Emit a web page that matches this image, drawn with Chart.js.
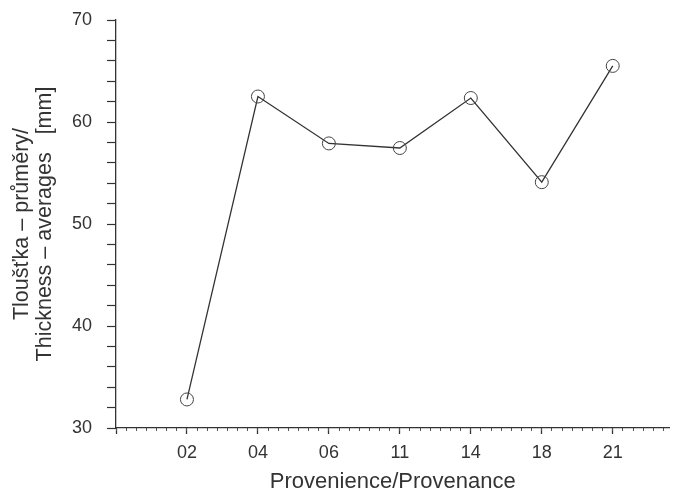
<!DOCTYPE html>
<html>
<head>
<meta charset="utf-8">
<script src="https://cdn.jsdelivr.net/npm/chart.js@4"></script>
<style>
  html, body { margin: 0; padding: 0; background: #fff; }
  #wrap { width: 677px; height: 498px; }
</style>
</head>
<body>
<div id="wrap"><canvas id="thicknessChart" width="677" height="498"></canvas></div>
<script>
// Provenance codes and average thickness [mm]
const provenances = ['02', '04', '06', '11', '14', '18', '21'];
const thickness = [32.8, 62.5, 57.9, 57.45, 62.35, 54.1, 65.5];
const yTickLabels = [30, 40, 50, 60, 70];

const ink = '#333333';
const font = 'Arial, "Liberation Sans", sans-serif';

// points sit at 1..n on a linear x scale, 0 is the axis origin
const points = thickness.map((v, i) => ({ x: i + 1, y: v }));
const xMax = provenances.length + 0.8;

// keep the scales from reserving extra room for edge labels
const noEdgePadding = (scale) => {
  scale.paddingTop = 0;
  scale.paddingBottom = 0;
  scale.paddingLeft = 0;
  scale.paddingRight = 0;
};

const ctx = document.getElementById('thicknessChart').getContext('2d');
const thicknessChart = new Chart(ctx, {
  type: 'line',
  data: {
    datasets: [{
      data: points,
      borderColor: ink,
      borderWidth: 1.3,
      tension: 0,
      pointRadius: 6.5,
      pointHoverRadius: 6.5,
      pointStyle: 'circle',
      pointBackgroundColor: 'rgba(0,0,0,0)',
      pointBorderColor: '#444',
      pointBorderWidth: 1
    }]
  },
  options: {
    responsive: false,
    animation: false,
    events: [],
    layout: { padding: { left: 0, right: 0, top: 20, bottom: 0 } },
    plugins: { legend: { display: false }, tooltip: { enabled: false } },
    scales: {
      x: {
        type: 'linear',
        min: 0,
        max: xMax,
        afterBuildTicks: (scale) => {
          scale.ticks = [0, ...provenances.map((p, i) => i + 1)].map(v => ({ value: v }));
        },
        afterFit: (scale) => { scale.height = 70; noEdgePadding(scale); },
        border: { display: true, color: ink, width: 1.3 },
        grid: { drawOnChartArea: false, tickLength: 6, tickColor: ink, tickWidth: 1.3 },
        ticks: {
          autoSkip: false,
          maxRotation: 0,
          padding: 8,
          color: ink,
          font: { family: font, size: 18 },
          callback: (v) => provenances[v - 1] || ''
        },
        title: {
          display: true,
          text: 'Provenience/Provenance',
          color: ink,
          font: { family: font, size: 22 },
          padding: { top: 0, bottom: 3 }
        }
      },
      xMinor: {
        type: 'linear',
        position: { y: 30 },
        min: 0,
        max: xMax,
        afterBuildTicks: (scale) => {
          const t = [];
          for (let k = 0; k / 7 <= xMax; k++) t.push({ value: k / 7 });
          scale.ticks = t;
        },
        afterFit: noEdgePadding,
        border: { display: false },
        grid: { drawOnChartArea: false, tickLength: 3, tickColor: '#555', tickWidth: 1 },
        ticks: { display: false }
      },
      y: {
        min: 30,
        max: 70,
        afterFit: (scale) => { scale.width = 116; noEdgePadding(scale); },
        border: { display: true, color: ink, width: 1.3 },
        grid: { drawOnChartArea: false, tickLength: 9, tickColor: ink, tickWidth: 1.2 },
        ticks: {
          stepSize: 2,
          autoSkip: false,
          padding: 15,
          color: ink,
          font: { family: font, size: 18 },
          callback: (v) => yTickLabels.includes(v) ? v : ''
        },
        title: {
          display: true,
          text: ['Tloušťka – průměry/', 'Thickness – averages   [mm]'],
          color: ink,
          font: { family: font, size: 21.5, lineHeight: 1.1 },
          padding: { top: 10, bottom: 0 }
        }
      }
    }
  }
});
</script>
</body>
</html>
